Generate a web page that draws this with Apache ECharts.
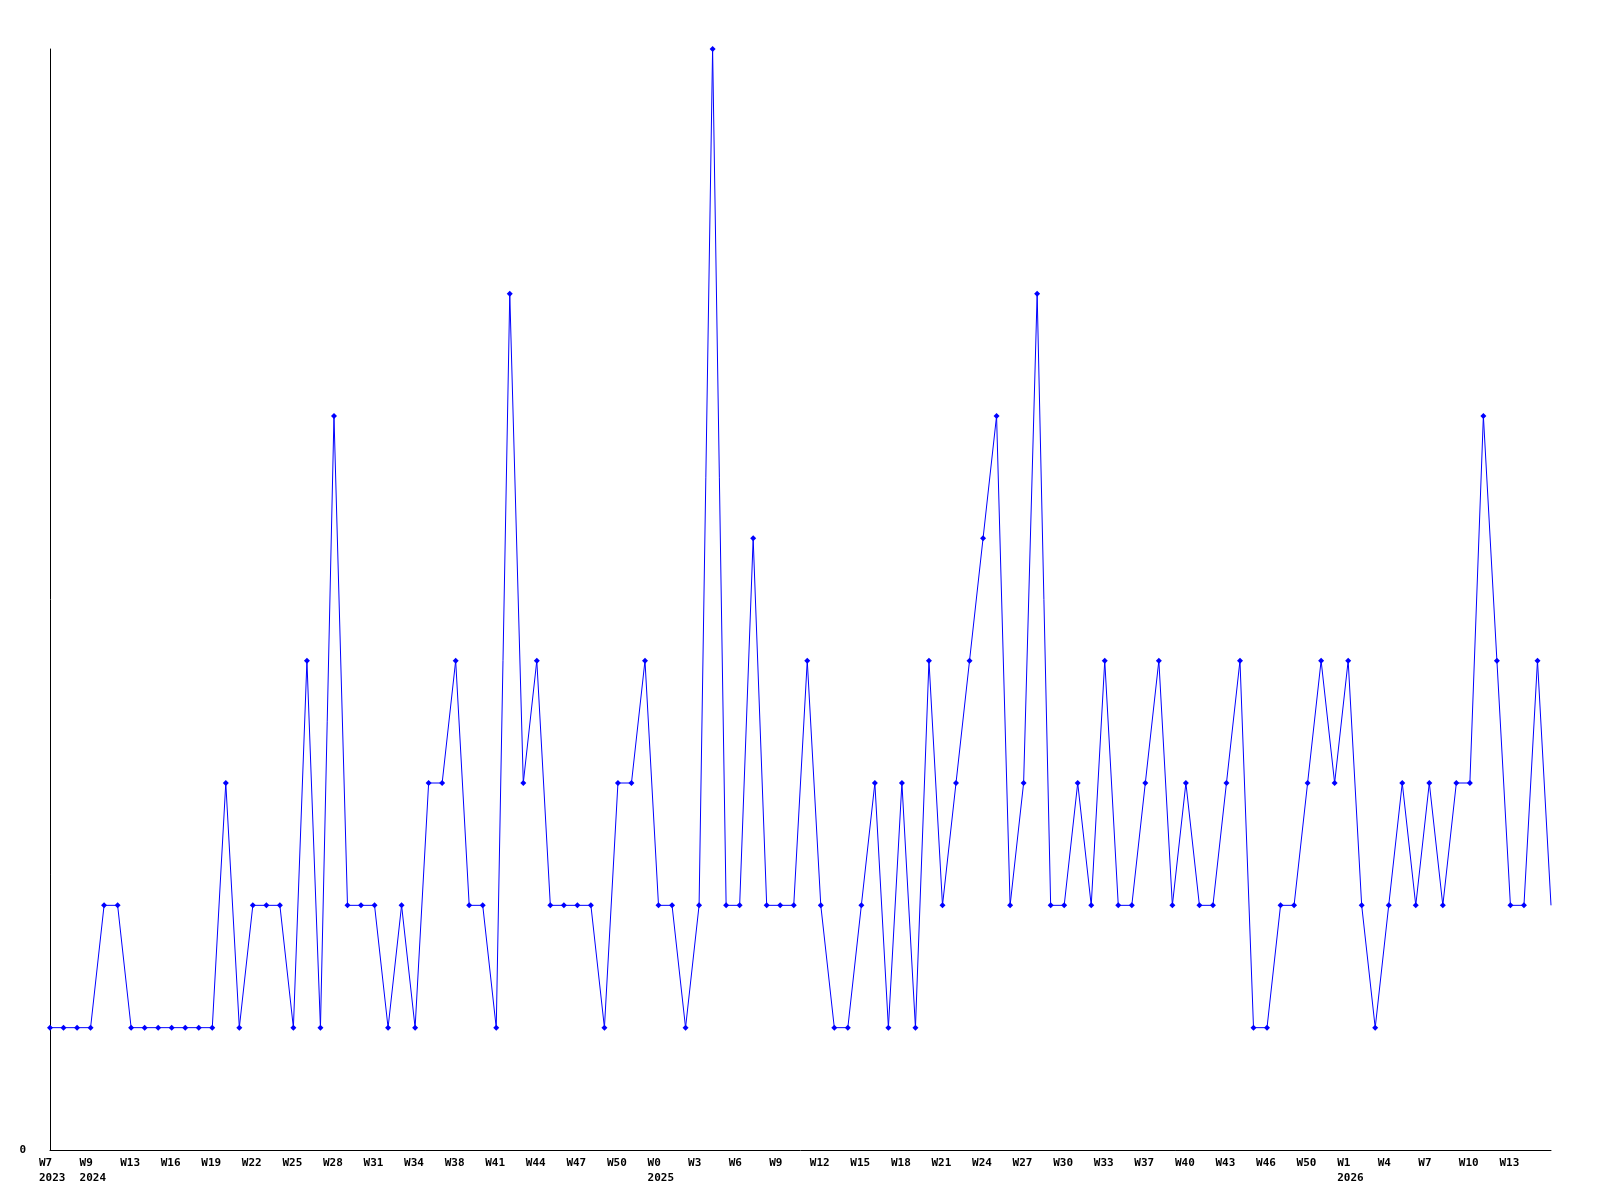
<!DOCTYPE html>
<html>
<head>
<meta charset="utf-8">
<script src="https://cdn.jsdelivr.net/npm/echarts@6/dist/echarts.min.js"></script>
<style>
  html, body { margin: 0; padding: 0; background: #fff; }
  #chart { width: 1600px; height: 1200px; }
</style>
</head>
<body>
<div id="chart"></div>
<script>
// week labels, one per point (every 3rd is shown on the axis)
const weeks = [
  'W7', 'W8', 'W52', 'W9', 'W10', 'W11', 'W13', 'W14', 'W15', 'W16', 'W17', 'W18',
  'W19', 'W20', 'W21', 'W22', 'W23', 'W24', 'W25', 'W26', 'W27', 'W28', 'W29', 'W30',
  'W31', 'W32', 'W33', 'W34', 'W36', 'W37', 'W38', 'W39', 'W40', 'W41', 'W42', 'W43',
  'W44', 'W45', 'W46', 'W47', 'W48', 'W49', 'W50', 'W51', 'W52', 'W0', 'W1', 'W2',
  'W3', 'W4', 'W5', 'W6', 'W7', 'W8', 'W9', 'W10', 'W11', 'W12', 'W13', 'W14',
  'W15', 'W16', 'W17', 'W18', 'W19', 'W20', 'W21', 'W22', 'W23', 'W24', 'W25', 'W26',
  'W27', 'W28', 'W29', 'W30', 'W31', 'W32', 'W33', 'W35', 'W36', 'W37', 'W38', 'W39',
  'W40', 'W41', 'W42', 'W43', 'W44', 'W45', 'W46', 'W48', 'W49', 'W50', 'W51', 'W52',
  'W1', 'W2', 'W3', 'W4', 'W5', 'W6', 'W7', 'W8', 'W9', 'W10', 'W11', 'W12',
  'W13', 'W14', 'W15', 'W16'
];
// year printed under the first labelled week of each year
const yearStarts = { 0: '2023', 3: '2024', 45: '2025', 96: '2026' };

const counts = [
  1, 1, 1, 1, 2, 2, 1, 1, 1, 1, 1, 1, 1, 3, 1, 2, 2, 2, 1, 4,
  1, 6, 2, 2, 2, 1, 2, 1, 3, 3, 4, 2, 2, 1, 7, 3, 4, 2, 2, 2,
  2, 1, 3, 3, 4, 2, 2, 1, 2, 9, 2, 2, 5, 2, 2, 2, 4, 2, 1, 1,
  2, 3, 1, 3, 1, 4, 2, 3, 4, 5, 6, 2, 3, 7, 2, 2, 3, 2, 4, 2,
  2, 3, 4, 2, 3, 2, 2, 3, 4, 1, 1, 2, 2, 3, 4, 3, 4, 2, 1, 2,
  3, 2, 3, 2, 3, 3, 6, 4, 2, 2, 4, 2
];

const yTicks = [0];

const labelFont = {
  fontFamily: 'DejaVu Sans Mono',
  fontWeight: 'bold',
  fontSize: 11,
  color: '#000'
};

const chart = echarts.init(document.getElementById('chart'));
const last = counts.length - 1;

const option = {
  backgroundColor: '#fff',
  animation: false,
  grid: { left: 50, right: 49, top: 49, bottom: 50 },
  xAxis: {
    type: 'category',
    data: weeks,
    boundaryGap: false,
    axisLine: { lineStyle: { color: '#000', width: 1 } },
    axisTick: { show: false },
    splitLine: { show: false },
    axisLabel: {
      ...labelFont,
      // every 3rd week, the last point gets no label
      interval: i => i % 3 === 0 && i < last,
      align: 'left',
      padding: [0, 0, 0, -11],
      margin: 6,
      lineHeight: 15,
      formatter: (value, index) => yearStarts[index] ? value + '\n' + yearStarts[index] : value
    }
  },
  yAxis: {
    type: 'value',
    min: 0,
    max: 9,
    interval: 1,
    axisLine: { show: true, lineStyle: { color: '#000', width: 1 } },
    axisTick: { show: false },
    splitLine: { show: false },
    axisLabel: {
      ...labelFont,
      margin: 24,
      formatter: v => (yTicks.includes(v) ? String(v) : '')
    }
  },
  series: [
    {
      type: 'line',
      data: counts.map((v, i) => (i === last ? { value: v, symbol: 'none' } : v)),
      symbol: 'diamond',
      symbolSize: 6,
      showAllSymbol: true,
      lineStyle: { color: '#0000ff', width: 1 },
      itemStyle: { color: '#0000ff' }
    }
  ]
};

chart.setOption(option);
</script>
</body>
</html>
